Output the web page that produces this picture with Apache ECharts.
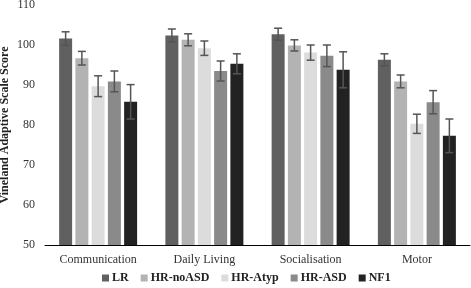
<!DOCTYPE html>
<html>
<head>
<meta charset="utf-8">
<script src="https://cdn.jsdelivr.net/npm/echarts@6/dist/echarts.min.js"></script>
<style>
  html, body { margin: 0; padding: 0; background: #fff; }
  #main { width: 471px; height: 288px; }
</style>
</head>
<body>
<div id="main"></div>
<script>
var categories = ["Communication", "Daily Living", "Socialisation", "Motor"];
var groups = ["LR", "HR-noASD", "HR-Atyp", "HR-ASD", "NF1"];
var colors = ["#606060", "#b3b3b3", "#dcdcdc", "#8a8a8a", "#222222"];

// means per group, one value per category
var meanLR = [101.6, 102.4, 102.7, 96.3];
var meanNoASD = [96.7, 101.3, 99.9, 90.9];
var meanAtyp = [89.7, 99.2, 98.1, 80.3];
var meanASD = [90.9, 93.5, 97.3, 85.7];
var meanNF1 = [85.8, 95.3, 93.8, 77.3];

// error (+/-) per group
var errLR = [1.7, 1.6, 1.5, 1.5];
var errNoASD = [1.7, 1.5, 1.4, 1.6];
var errAtyp = [2.6, 1.8, 1.9, 2.4];
var errASD = [2.6, 2.5, 2.7, 2.9];
var errNF1 = [4.3, 2.5, 4.5, 4.2];

var yTicks = [50, 60, 70, 80, 90, 100, 110];

var means = [meanLR, meanNoASD, meanAtyp, meanASD, meanNF1];
var errs = [errLR, errNoASD, errAtyp, errASD, errNF1];

var barW = 13;
var gapW = 3.25;

var myChart = echarts.init(document.getElementById("main"));

var series = [];
groups.forEach(function (g, i) {
  series.push({
    name: g,
    type: "bar",
    barWidth: barW,
    barGap: "25%",
    itemStyle: { color: colors[i] },
    data: means[i],
  });
});

// error bars, shifted to sit on each bar of the group
groups.forEach(function (g, i) {
  var offset = (i - 2) * (barW + gapW);
  series.push({
    name: g + "-err",
    type: "custom",
    z: 10,
    silent: true,
    data: means[i].map(function (m, k) {
      return [k, m - errs[i][k], m + errs[i][k]];
    }),
    renderItem: function (params, api) {
      var lo = api.coord([api.value(0), api.value(1)]);
      var hi = api.coord([api.value(0), api.value(2)]);
      var x = lo[0] + offset;
      var cap = 4;
      var st = { stroke: "#555", lineWidth: 1.5 };
      return {
        type: "group",
        children: [
          { type: "line", shape: { x1: x, y1: lo[1], x2: x, y2: hi[1] }, style: st },
          { type: "line", shape: { x1: x - cap, y1: lo[1], x2: x + cap, y2: lo[1] }, style: st },
          { type: "line", shape: { x1: x - cap, y1: hi[1], x2: x + cap, y2: hi[1] }, style: st },
        ],
      };
    },
  });
});

var option = {
  animation: false,
  textStyle: { fontFamily: "Liberation Serif" },
  grid: { left: 45, right: 1, top: 5, bottom: 43, containLabel: false, outerBoundsMode: "none" },
  legend: {
    data: groups,
    top: 267,
    left: 97,
    itemWidth: 7,
    itemHeight: 7,
    itemGap: 12,
    icon: "rect",
    textStyle: { fontFamily: "Liberation Serif", fontWeight: "bold", fontSize: 12, color: "#222", padding: [0, 0, 0, -2] },
  },
  xAxis: {
    type: "category",
    data: categories,
    axisTick: { show: false },
    axisLine: { lineStyle: { color: "#000", width: 1 } },
    axisLabel: { fontFamily: "Liberation Serif", fontSize: 12, color: "#333", margin: 9 },
  },
  yAxis: {
    type: "value",
    min: yTicks[0],
    max: yTicks[yTicks.length - 1],
    interval: 10,
    name: "Vineland Adaptive Scale Score",
    nameLocation: "middle",
    nameGap: 34,
    nameMoveOverlap: false,
    nameTextStyle: { fontFamily: "Liberation Serif", fontWeight: "bold", fontSize: 12, color: "#222" },
    axisLine: { show: false },
    axisTick: { show: false },
    splitLine: { show: false },
    axisLabel: { fontFamily: "Liberation Serif", fontSize: 12, color: "#333", margin: 10 },
  },
  series: series,
};
myChart.setOption(option);
</script>
</body>
</html>
